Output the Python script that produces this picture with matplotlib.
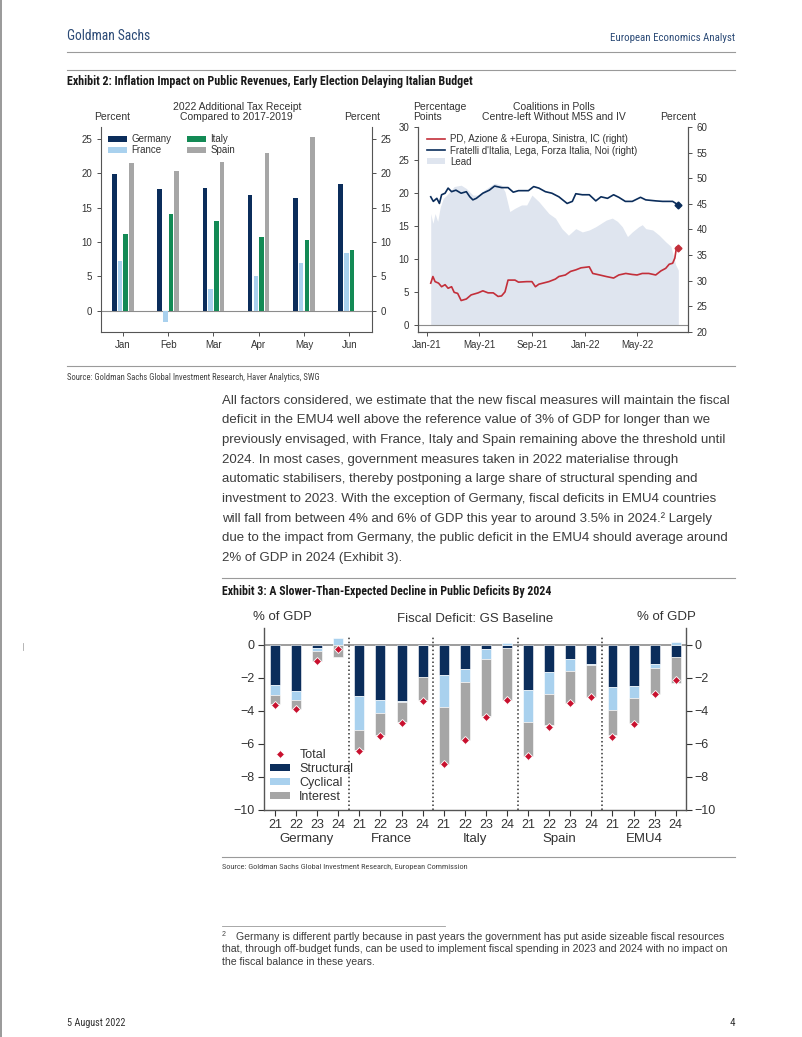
import numpy as np
import pandas as pd
import matplotlib
matplotlib.use('Agg')
import matplotlib.pyplot as plt
import matplotlib.transforms as mtransforms
from matplotlib import font_manager
from matplotlib.lines import Line2D
from matplotlib.patches import Patch

W, H = 802, 1037

# Exhibit 2, left: 2022 additional tax receipt vs 2017-2019 (percent)
months = ['Jan', 'Feb', 'Mar', 'Apr', 'May', 'Jun']
tax_germany = [19.9, 17.7, 17.9, 16.9, 16.4, 18.5]
tax_france = [7.2, -1.6, 3.1, 5.0, 6.9, 8.4]
tax_italy = [11.2, 14.1, 13.1, 10.7, 10.3, 8.8]
tax_spain = [21.5, 20.3, 21.6, 22.9, 25.3, np.nan]

# Exhibit 2, right: coalitions in polls
centreright_dates = ['2021-01-10', '2021-01-16', '2021-01-24', '2021-01-30', '2021-02-04',
                     '2021-02-12', '2021-02-19', '2021-02-27', '2021-03-09', '2021-03-21',
                     '2021-04-02', '2021-04-10', '2021-04-17', '2021-04-25', '2021-05-10',
                     '2021-05-25', '2021-06-06', '2021-06-22', '2021-07-07', '2021-07-19',
                     '2021-07-31', '2021-08-23', '2021-09-04', '2021-09-16', '2021-10-01',
                     '2021-10-16', '2021-11-01', '2021-11-20', '2021-12-02', '2021-12-10',
                     '2021-12-25', '2022-01-10', '2022-01-25', '2022-02-06', '2022-02-21',
                     '2022-03-07', '2022-03-19', '2022-04-03', '2022-04-19', '2022-05-08',
                     '2022-05-20', '2022-06-12', '2022-06-28', '2022-07-09', '2022-07-21',
                     '2022-08-03']
centreright = [46.4, 45.5, 46.1, 45.1, 46.8, 47.1, 48.1, 47.4, 47.7, 47.1,
               47.4, 46.4, 45.8, 46.1, 47.1, 47.7, 48.5, 48.2, 48.2, 47.3,
               47.6, 47.6, 48.4, 48.1, 47.4, 47.1, 46.4, 45.1, 45.5, 47.0,
               46.8, 46.8, 45.6, 46.4, 46.1, 46.8, 46.3, 45.5, 45.5, 46.3,
               45.8, 45.6, 45.5, 45.5, 45.5, 44.8]

centreleft_dates = ['2021-01-10', '2021-01-15', '2021-01-20', '2021-01-28', '2021-02-04',
                    '2021-02-12', '2021-02-19', '2021-02-27', '2021-03-05', '2021-03-13',
                    '2021-03-21', '2021-04-02', '2021-04-13', '2021-04-29', '2021-05-10',
                    '2021-05-22', '2021-06-03', '2021-06-14', '2021-06-22', '2021-06-30',
                    '2021-07-07', '2021-07-23', '2021-07-31', '2021-08-19', '2021-08-31',
                    '2021-09-08', '2021-09-16', '2021-10-09', '2021-10-24', '2021-11-01',
                    '2021-11-16', '2021-11-28', '2021-12-10', '2021-12-22', '2022-01-10',
                    '2022-01-18', '2022-02-03', '2022-02-18', '2022-03-07', '2022-03-19',
                    '2022-04-04', '2022-04-19', '2022-04-30', '2022-05-12', '2022-05-27',
                    '2022-06-12', '2022-06-24', '2022-07-05', '2022-07-13', '2022-07-21',
                    '2022-07-26', '2022-07-30', '2022-08-03']
centreleft = [29.5, 30.8, 29.8, 29.5, 28.8, 29.2, 28.5, 28.8, 27.7, 27.5,
              26.1, 26.4, 27.2, 27.6, 28.0, 27.6, 27.6, 26.9, 27.0, 27.8,
              30.1, 30.1, 29.7, 29.8, 29.8, 28.8, 29.3, 29.8, 30.3, 30.8,
              31.1, 31.8, 32.1, 32.5, 32.7, 31.4, 31.1, 30.8, 30.5, 31.1,
              31.4, 31.2, 31.1, 31.4, 31.4, 31.1, 31.9, 32.4, 33.2, 33.4,
              34.4, 36.6, 36.3]

lead_dates = ['2021-01-10', '2021-01-15', '2021-01-20', '2021-01-26', '2021-02-01',
              '2021-02-08', '2021-02-16', '2021-02-23', '2021-03-05', '2021-03-21',
              '2021-04-02', '2021-04-17', '2021-04-29', '2021-05-14', '2021-06-06',
              '2021-06-22', '2021-06-30', '2021-07-11', '2021-07-23', '2021-08-07',
              '2021-08-19', '2021-08-31', '2021-09-16', '2021-10-09', '2021-10-24',
              '2021-11-08', '2021-11-23', '2021-12-10', '2021-12-25', '2022-01-10',
              '2022-01-25', '2022-02-06', '2022-02-18', '2022-03-04', '2022-03-16',
              '2022-03-27', '2022-04-08', '2022-04-19', '2022-05-04', '2022-05-12',
              '2022-05-20', '2022-06-05', '2022-06-20', '2022-07-05', '2022-07-17',
              '2022-07-28', '2022-08-03']
lead = [16.9, 15.4, 16.9, 15.7, 17.9, 19.2, 19.7, 20.2, 21.0, 21.2,
        20.7, 19.7, 19.7, 20.5, 21.5, 21.2, 20.2, 17.2, 17.7, 18.2,
        18.2, 19.7, 18.7, 16.9, 16.2, 14.6, 13.6, 14.6, 14.1, 14.4,
        14.9, 15.4, 15.9, 16.2, 15.7, 14.9, 13.4, 14.1, 14.9, 15.2,
        14.6, 14.4, 13.6, 12.6, 11.9, 9.1, 8.3]

poll_tick_dates = ['2021-01-01', '2021-05-01', '2021-09-01', '2022-01-01', '2022-05-01']
poll_tick_labels = ['Jan-21', 'May-21', 'Sep-21', 'Jan-22', 'May-22']

# Exhibit 3: fiscal deficit decomposition (% of GDP)
countries = ['Germany', 'France', 'Italy', 'Spain', 'EMU4']
years = ['21', '22', '23', '24']
structural = [-2.45, -2.8, -0.2, 0.0, -3.1, -3.35, -3.4, -1.95, -1.8, -1.45,
              -0.25, -0.2, -2.7, -1.65, -0.85, -1.15, -2.55, -2.5, -1.15, -0.75]
cyclical = [-0.6, -0.55, -0.15, 0.45, -2.05, -0.8, -0.05, 0.0, -1.95, -0.8,
            -0.6, 0.12, -1.95, -1.3, -0.7, -0.08, -1.4, -0.7, -0.25, 0.2]
interest = [-0.55, -0.5, -0.6, -0.72, -1.2, -1.3, -1.2, -1.4, -3.45, -3.5,
            -3.45, -3.15, -2.05, -1.9, -1.95, -1.9, -1.5, -1.55, -1.55, -1.55]
total = [-3.65, -3.9, -0.95, -0.25, -6.45, -5.5, -4.7, -3.4, -7.2, -5.75,
         -4.35, -3.35, -6.75, -4.95, -3.5, -3.15, -5.55, -4.8, -3.0, -2.15]

body_lines = [
    "All factors considered, we estimate that the new fiscal measures will maintain the fiscal",
    "deficit in the EMU4 well above the reference value of 3% of GDP for longer than we",
    "previously envisaged, with France, Italy and Spain remaining above the threshold until",
    "2024. In most cases, government measures taken in 2022 materialise through",
    "automatic stabilisers, thereby postponing a large share of structural spending and",
    "investment to 2023. With the exception of Germany, fiscal deficits in EMU4 countries",
    "will fall from between 4% and 6% of GDP this year to around 3.5% in 2024.\u00b2 Largely",
    "due to the impact from Germany, the public deficit in the EMU4 should average around",
    "2% of GDP in 2024 (Exhibit 3).",
]
footnote_lines = [
    "Germany is different partly because in past years the government has put aside sizeable fiscal resources",
    "that, through off-budget funds, can be used to implement fiscal spending in 2023 and 2024 with no impact on",
    "the fiscal balance in these years.",
]

# colours
NAVY = '#0b2d5b'
LIGHT = '#a9d1ee'
GREEN = '#138a55'
GREY = '#a6a6a6'
RED = '#c32f3a'
LEADFILL = '#dfe5ef'
TXT = '#333333'
RULE = '#9a9a9a'
GSBLUE = '#2b4a76'


def find_condensed():
    fonts = font_manager.fontManager.ttflist
    names = {f.name for f in fonts}
    for n in ['Liberation Sans Narrow', 'Roboto Condensed', 'Open Sans Condensed',
              'Noto Sans Condensed', 'DejaVu Sans Condensed', 'Noto Sans Display Condensed']:
        if n in names:
            return n, 'normal'
    for f in fonts:
        if f.name in ('Noto Sans', 'Roboto', 'Open Sans', 'DejaVu Sans', 'Inter') and \
                str(f.stretch) in ('condensed', 'semi-condensed'):
            return f.name, f.stretch
    return 'Liberation Sans', 'normal'


NARROW, NSTRETCH = find_condensed()
SANS = 'Liberation Sans'
plt.rcParams['font.family'] = SANS


def rect(x0, y0, x1, y1):
    return [x0 / W, 1 - y1 / H, (x1 - x0) / W, (y1 - y0) / H]


def ptext(x, y, s, **kw):
    kw.setdefault('va', 'center')
    return fig.text(x / W, 1 - y / H, s, **kw)


def ntext(x, y, s, **kw):
    return ptext(x, y, s, family=NARROW, fontstretch=NSTRETCH, **kw)


def hline(x0, x1, y, lw=0.8):
    fig.add_artist(Line2D([x0 / W, x1 / W], [1 - y / H, 1 - y / H], color=RULE, lw=lw))


fig = plt.figure(figsize=(W / 100, H / 100), dpi=100)
renderer = fig.canvas.get_renderer()


def fit(texts, width_px, ref=0):
    # scale font size so the reference text spans the width measured on the page
    bb = texts[ref].get_window_extent(renderer)
    size = texts[ref].get_fontsize() * width_px / bb.width
    for t in texts:
        t.set_fontsize(size)


# ---------------- page furniture
fit([ntext(67, 36, 'Goldman Sachs', fontsize=11, color=GSBLUE)], 83)
fit([ntext(735, 38, 'European Economics Analyst', fontsize=8.5, color=GSBLUE, ha='right')], 124)
hline(67, 735, 51.7)
hline(67, 735, 70)
fit([ntext(67, 82, 'Exhibit 2: Inflation Impact on Public Revenues, Early Election Delaying Italian Budget',
           fontsize=8, fontweight='bold', color='#1a1a1a')], 405)
hline(67, 735, 366)
fit([ntext(67, 377, 'Source: Goldman Sachs Global Investment Research, Haver Analytics, SWG',
           fontsize=6.3, color='#444444')], 253)

body = [ptext(222, 400.7 + 19.65 * i, line, fontsize=10, color='#3c3c3c')
        for i, line in enumerate(body_lines)]
fit(body, 509)

hline(222, 735, 578.3)
fit([ntext(222, 591, 'Exhibit 3: A Slower-Than-Expected Decline in Public Deficits By 2024',
           fontsize=8, fontweight='bold', color='#1a1a1a')], 328)
hline(222, 735, 856.7)
fit([ntext(222, 867, 'Source: Goldman Sachs Global Investment Research, European Commission',
           fontsize=6.3, color='#444444')], 248)

hline(222, 445, 926, lw=0.6)
ptext(222, 934, '2', fontsize=5, color='#444444')
foot = [ptext(236, 937, footnote_lines[0], fontsize=7, color='#3c3c3c'),
        ptext(222, 949.5, footnote_lines[1], fontsize=7, color='#3c3c3c'),
        ptext(222, 962, footnote_lines[2], fontsize=7, color='#3c3c3c')]
fit(foot, 504, ref=1)

fit([ntext(67, 1023, '5 August 2022', fontsize=8, color='#333333')], 59)
ntext(735, 1023, '4', fontsize=8, color='#333333', ha='right')

fig.add_artist(Line2D([0.6 / W, 0.6 / W], [0, 1], color='#888888', lw=1.2))
fig.add_artist(Line2D([22.5 / W, 22.5 / W], [1 - 643 / H, 1 - 650 / H], color='#aaaaaa', lw=0.6))

# ---------------- Exhibit 2 left: tax receipts
axL = fig.add_axes(rect(100.7, 127.3, 372.3, 331.7))
x = np.arange(len(months))
step, bw = 0.125, 0.1
series = [(tax_germany, NAVY, 'Germany'), (tax_france, LIGHT, 'France'),
          (tax_italy, GREEN, 'Italy'), (tax_spain, GREY, 'Spain')]
for k, (vals, col, lab) in enumerate(series):
    axL.bar(x + (k - 1.5) * step, vals, bw, color=col, label=lab, zorder=2)
axL.axhline(0, color='#8c8c8c', lw=0.8, zorder=1)
axL.set_xlim(-0.49, 5.51)
axL.set_ylim(-3.06, 26.7)
axL.set_yticks([0, 5, 10, 15, 20, 25])
axL.set_xticks(x)
axL.set_xticklabels(months)
axL.yaxis.set_ticks_position('both')
axL.tick_params(axis='both', direction='out', labelsize=7, colors=TXT, length=3, width=0.6,
                labelright=True, pad=3)
axL.spines['top'].set_visible(False)
for s in ['left', 'right', 'bottom']:
    axL.spines[s].set_color('#555555')
    axL.spines[s].set_linewidth(0.8)
leg = axL.legend(loc='upper left', bbox_to_anchor=(0.027, 0.965), ncol=2, frameon=False,
                 fontsize=7, handlelength=2.0, handleheight=0.45, handletextpad=0.4,
                 columnspacing=1.6, labelspacing=0.1, borderpad=0, borderaxespad=0)
for t in leg.get_texts():
    t.set_color(TXT)
ptext(111.7, 116.7, 'Percent', fontsize=7.5, color=TXT, ha='center')
ptext(361.7, 116.7, 'Percent', fontsize=7.5, color=TXT, ha='center')
ptext(236.7, 107.3, '2022 Additional Tax Receipt', fontsize=7.5, color=TXT, ha='center')
ptext(236.7, 116.7, 'Compared to 2017-2019', fontsize=7.5, color=TXT, ha='center')

# ---------------- Exhibit 2 right: polls
axR = fig.add_axes(rect(417.7, 127.3, 688.3, 331.7))
axR2 = axR.twinx()
axR.fill_between(pd.to_datetime(lead_dates), 0, lead, color=LEADFILL, lw=0, zorder=1)
axR.axhline(0, color='#8c8c8c', lw=0.8, zorder=2)
cl_d = pd.to_datetime(centreleft_dates)
cr_d = pd.to_datetime(centreright_dates)
axR2.plot(cl_d, centreleft, color=RED, lw=1.2)
axR2.plot(cr_d, centreright, color=NAVY, lw=1.2)
axR2.plot(cl_d[-1:], centreleft[-1:], marker='D', ms=3.5, color=RED, ls='none')
axR2.plot(cr_d[-1:], centreright[-1:], marker='D', ms=3.5, color=NAVY, ls='none')
axR.set_xlim(pd.Timestamp('2020-12-11'), pd.Timestamp('2022-08-26'))
axR.set_ylim(-1.06, 30)
axR2.set_ylim(20, 60)
axR.set_yticks([0, 5, 10, 15, 20, 25, 30])
axR2.set_yticks([20, 25, 30, 35, 40, 45, 50, 55, 60])
axR.set_xticks(pd.to_datetime(poll_tick_dates))
axR.set_xticklabels(poll_tick_labels)
for a in (axR, axR2):
    a.tick_params(axis='both', direction='out', labelsize=7, colors=TXT, length=3, width=0.6, pad=3)
    a.spines['top'].set_visible(False)
    for s in ['left', 'right', 'bottom']:
        a.spines[s].set_color('#555555')
        a.spines[s].set_linewidth(0.8)
handles = [Line2D([], [], color=RED, lw=1.2), Line2D([], [], color=NAVY, lw=1.2),
           Patch(facecolor=LEADFILL, edgecolor='none')]
labels = ['PD, Azione & +Europa, Sinistra, IC (right)',
          "Fratelli d'Italia, Lega, Forza Italia, Noi (right)", 'Lead']
leg = axR2.legend(handles, labels, loc='upper left', bbox_to_anchor=(0.033, 0.965), frameon=False,
                  fontsize=7, handlelength=1.9, handleheight=0.6, handletextpad=0.55,
                  labelspacing=0.12, borderpad=0, borderaxespad=0)
for t in leg.get_texts():
    t.set_color(TXT)
ptext(413, 107.3, 'Percentage', fontsize=7.5, color=TXT)
ptext(413, 116.7, 'Points', fontsize=7.5, color=TXT)
ptext(554.3, 107.3, 'Coalitions in Polls', fontsize=7.5, color=TXT, ha='center')
ptext(554.3, 116.7, 'Centre-left Without M5S and IV', fontsize=7.5, color=TXT, ha='center')
ptext(678, 116.7, 'Percent', fontsize=7.5, color=TXT, ha='center')

# ---------------- Exhibit 3: fiscal deficits
ax3 = fig.add_axes(rect(264, 628.3, 685.7, 810))
xx = np.arange(len(structural))
pos_base = np.zeros(len(xx))
neg_base = np.zeros(len(xx))
for vals, col in [(structural, NAVY), (cyclical, LIGHT), (interest, GREY)]:
    v = np.array(vals)
    base = np.where(v >= 0, pos_base, neg_base)
    ax3.bar(xx, v, 0.47, bottom=base, color=col, edgecolor='white', linewidth=0.4, zorder=2)
    pos_base += np.clip(v, 0, None)
    neg_base += np.clip(v, None, 0)
ax3.plot(xx, total, ls='none', marker='D', ms=4.2, mfc='#c8102e', mec='white', mew=0.6, zorder=3)
ax3.axhline(0, color='#8c8c8c', lw=1.2, zorder=1)
for k in range(1, len(countries)):
    ax3.axvline(4 * k - 0.5, ymin=0, ymax=0.955, color='#333333', ls=(0, (1, 1.6)), lw=1.1, zorder=1)
ax3.set_xlim(-0.52, 19.47)
ax3.set_ylim(-10, 1.01)
ax3.set_yticks([0, -2, -4, -6, -8, -10])
ax3.set_xticks(xx)
ax3.set_xticklabels(years * len(countries))
ax3.yaxis.set_ticks_position('both')
ax3.tick_params(axis='both', direction='out', labelsize=9, colors=TXT, length=4, width=0.8,
                labelright=True, pad=2.5)
ax3.spines['top'].set_visible(False)
for s in ['left', 'right', 'bottom']:
    ax3.spines[s].set_color('#555555')
    ax3.spines[s].set_linewidth(1.0)
trans = mtransforms.blended_transform_factory(ax3.transData, ax3.transAxes)
for k, name in enumerate(countries):
    ax3.text(4 * k + 1.5, -0.158, name, transform=trans, ha='center', va='center',
             fontsize=9.5, color=TXT)
handles = [Line2D([], [], ls='none', marker='D', ms=4.2, mfc='#c8102e', mec='white', mew=0.6),
           Patch(facecolor=NAVY), Patch(facecolor=LIGHT), Patch(facecolor=GREY)]
leg = ax3.legend(handles, ['Total', 'Structural', 'Cyclical', 'Interest'], loc='upper left',
                 bbox_to_anchor=(0.014, 0.333), frameon=False, fontsize=9, handlelength=1.6,
                 handleheight=0.5, handletextpad=0.75, labelspacing=0.15, borderpad=0,
                 borderaxespad=0)
for t in leg.get_texts():
    t.set_color(TXT)
ptext(282.7, 617, '% of GDP', fontsize=9.5, color=TXT, ha='center')
ptext(666.7, 617, '% of GDP', fontsize=9.5, color=TXT, ha='center')
ptext(475, 619.3, 'Fiscal Deficit: GS Baseline', fontsize=9.5, color=TXT, ha='center')

fig.savefig('out.png', dpi=100)
